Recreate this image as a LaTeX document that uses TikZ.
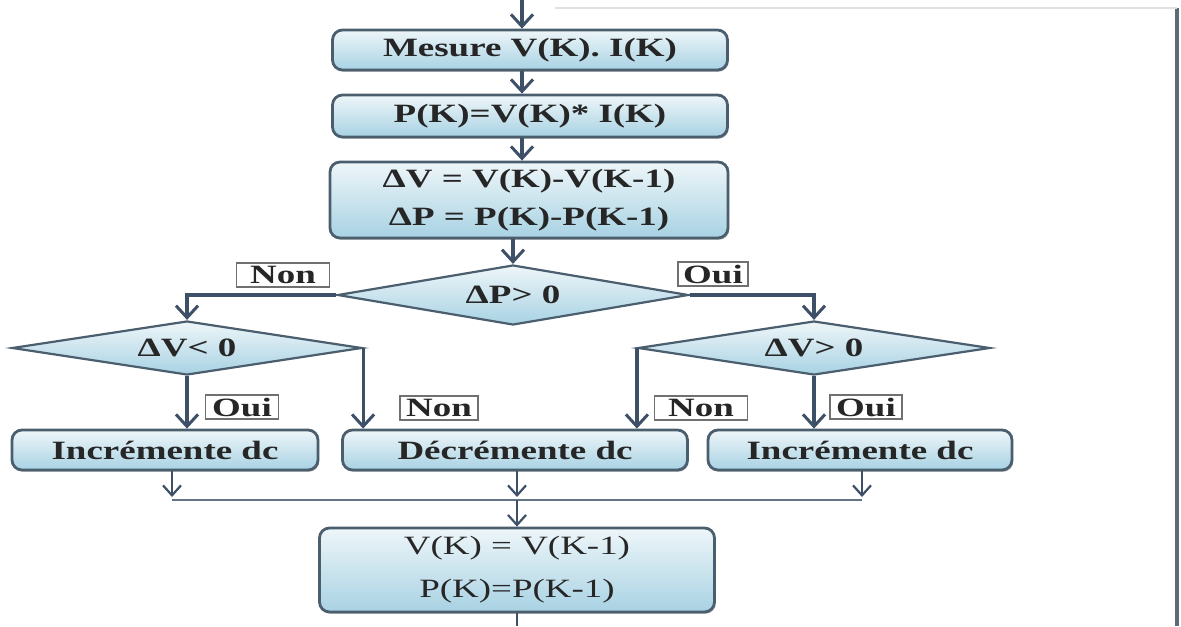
\documentclass[tikz,border=0pt]{standalone}
\usepackage{fontspec}
\setmainfont{Liberation Serif}[FakeStretch=1.4]
\usetikzlibrary{shapes.geometric,arrows.meta,shadows}
\definecolor{edge}{HTML}{4B5E6E}
\definecolor{wire}{HTML}{3E5068}
\definecolor{filltop}{HTML}{EEF6F9}
\definecolor{fillbot}{HTML}{A8D2E3}
\definecolor{ink}{HTML}{262626}
\definecolor{tagline}{HTML}{707070}
\definecolor{frame}{HTML}{5F6B73}
\begin{document}
\begin{tikzpicture}[x=0.5pt,y=-0.5pt,
  font=\fontsize{13.2}{19}\selectfont\bfseries,
  stepbox/.style={draw=edge, line width=1.4pt, rounded corners=5pt,
    top color=filltop, bottom color=fillbot, text=ink, inner sep=0pt, align=center,
    drop shadow={shadow xshift=0.6pt, shadow yshift=-0.9pt, opacity=0.25, fill=black}},
  test/.style={diamond, aspect=5, draw=edge, line width=1.1pt,
    top color=filltop, bottom color=fillbot, inner sep=0pt, text=ink},
  tag/.style={draw=tagline, line width=0.6pt, fill=white, inner sep=0pt, text=ink,
    minimum height=12pt},
  flow/.style={draw=wire, line width=1.6pt,
    -{Straight Barb[length=6pt,width=11pt,line width=1.5pt]}},
  thinflow/.style={draw=wire, line width=1pt,
    -{Straight Barb[length=5pt,width=9pt,line width=1.1pt]}},
  bus/.style={draw=wire!80, line width=0.9pt}
]
\useasboundingbox (0,0) rectangle (1181,626);

% screen frame
\draw[frame, line width=2pt] (1177,8) -- (1177,626);
\draw[black!12, line width=0.6pt] (555,8) -- (1177,8);

% main column
\node[stepbox, minimum width=197.5pt, minimum height=20pt] (mes) at (530,50) {Mesure V(K). I(K)};
\node[stepbox, minimum width=197.5pt, minimum height=21pt] (pk) at (530,116) {P(K)=V(K)* I(K)};
\node[stepbox, minimum width=199pt, minimum height=38pt] (dl) at (529,200)
  {ΔV = V(K)-V(K-1)\\ ΔP = P(K)-P(K-1)};

% decisions
\node[test, minimum width=175.5pt, minimum height=30pt] (dp) at (513,295) {ΔP> 0};
\node[test, minimum width=175pt, minimum height=27pt] (dvl) at (187,348) {ΔV< 0};
\node[test, minimum width=176pt, minimum height=27pt] (dvr) at (814,348) {ΔV> 0};

% actions
\node[stepbox, minimum width=153pt, minimum height=20pt] (bl) at (165,450) {Incrémente dc};
\node[stepbox, minimum width=172.5pt, minimum height=20pt] (bm) at (515,450) {Décrémente dc};
\node[stepbox, minimum width=152pt, minimum height=20pt] (br) at (860,450) {Incrémente dc};

% update
\node[stepbox, minimum width=197.5pt, minimum height=42pt, font=\fontsize{13.2}{21.5}\selectfont] (vk) at (517,570)
  {V(K) = V(K-1)\\ P(K)=P(K-1)};

% branch tags
\node[tag, minimum width=46.5pt] (t1) at (283,275) {Non};
\node[tag, minimum width=35pt] (t2) at (713,274) {Oui};
\node[tag, minimum width=36.5pt] (t3) at (242,407) {Oui};
\node[tag, minimum width=39pt] (t4) at (439,408) {Non};
\node[tag, minimum width=46.5pt] (t5) at (701,408) {Non};
\node[tag, minimum width=36pt] (t6) at (866,407) {Oui};

% connectors
\coordinate (top) at (522,0);
\draw[flow] (top) -- (top |- mes.north);
\draw[flow] (mes.south -| top) -- (pk.north -| top);
\draw[flow] (pk.south -| top) -- (dl.north -| top);
\draw[flow] (dl.south -| dp.north) -- (dp.north);
\draw[flow] (dp.west) -| (dvl.north);
\draw[flow] (dp.east) -| (dvr.north);
\draw[flow] (dvl.south) -- (dvl.south |- bl.north);
\draw[flow] (dvl.east) -- (dvl.east |- bm.north);
\draw[flow] (dvr.west) -- (dvr.west |- bm.north);
\draw[flow] (dvr.south) -- (dvr.south |- br.north);

\coordinate (jl) at (172,500);
\coordinate (jm) at (517,500);
\coordinate (jr) at (862,500);
\draw[bus] (jl) -- (jr);
\draw[thinflow, shorten >=1.5pt] (bl.south -| jl) -- (jl);
\draw[thinflow, shorten >=1.5pt] (bm.south -| jm) -- (jm);
\draw[thinflow, shorten >=1.5pt] (br.south -| jr) -- (jr);
\draw[thinflow] (jm) -- (vk.north);
\coordinate (out) at (517,626);
\draw[draw=wire, line width=1pt] (vk.south) -- (out);
\end{tikzpicture}
\end{document}
